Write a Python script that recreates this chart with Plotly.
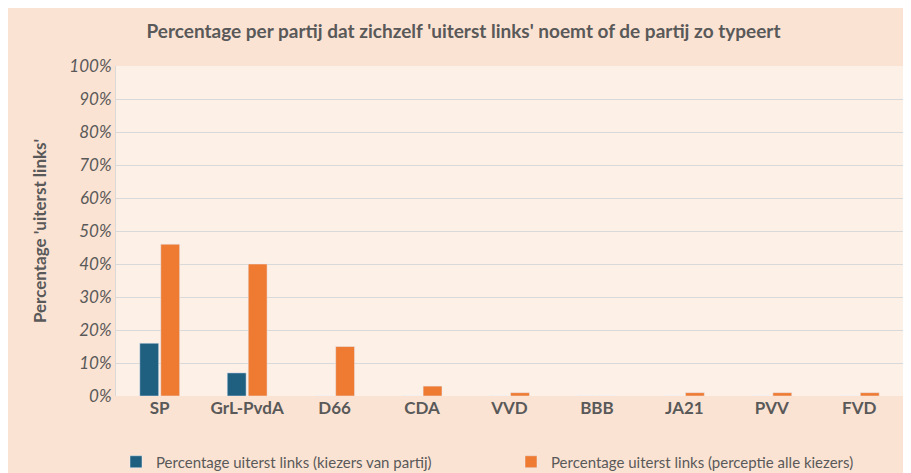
import plotly.graph_objects as go

partijen = ["SP", "GrL-PvdA", "D66", "CDA", "VVD", "BBB", "JA21", "PVV", "FVD"]
kiezers_partij = [16, 7, 0, 0, 0, 0, 0, 0, 0]
perceptie_alle = [46, 40, 15, 3, 1, 0, 1, 1, 1]

fig = go.Figure()
fig.add_bar(x=partijen, y=kiezers_partij, name="Percentage uiterst links (kiezers van partij)",
            marker_color="#1f5f80")
fig.add_bar(x=partijen, y=perceptie_alle, name="Percentage uiterst links (perceptie alle kiezers)",
            marker_color="#ef7a32")

fig.update_layout(
    width=911, height=473,
    paper_bgcolor="#fbe3d3", plot_bgcolor="#fdf0e7",
    font=dict(family="Lato, Noto Sans, sans-serif", color="#595959"),
    title=dict(text="<b>Percentage per partij dat zichzelf 'uiterst links' noemt of de partij zo typeert</b>",
               x=0.5, xanchor="center", y=0.965, font=dict(size=19, color="#595959")),
    margin=dict(l=108, r=16, t=58, b=85, autoexpand=False),
    bargap=0.52, bargroupgap=0.1,
    legend=dict(orientation="h", x=0.0, y=-0.15, xanchor="left", yanchor="top",
                font=dict(size=15, color="#595959"), itemwidth=30,
                traceorder="normal", entrywidth=350, entrywidthmode="pixels"),
    showlegend=True,
)
fig.update_yaxes(range=[0, 100], dtick=10, ticksuffix="%", gridcolor="#d9d9d9",
                 tickfont=dict(size=17, color="#595959", style="italic"),
                 title=dict(text="<b>Percentage 'uiterst links'</b>", font=dict(size=17), standoff=18),
                 zeroline=False, showline=True, linecolor="#d9d9d9")
fig.update_xaxes(tickfont=dict(size=17, color="#595959", weight="bold"), showline=False)

fig.write_html("out.html")
